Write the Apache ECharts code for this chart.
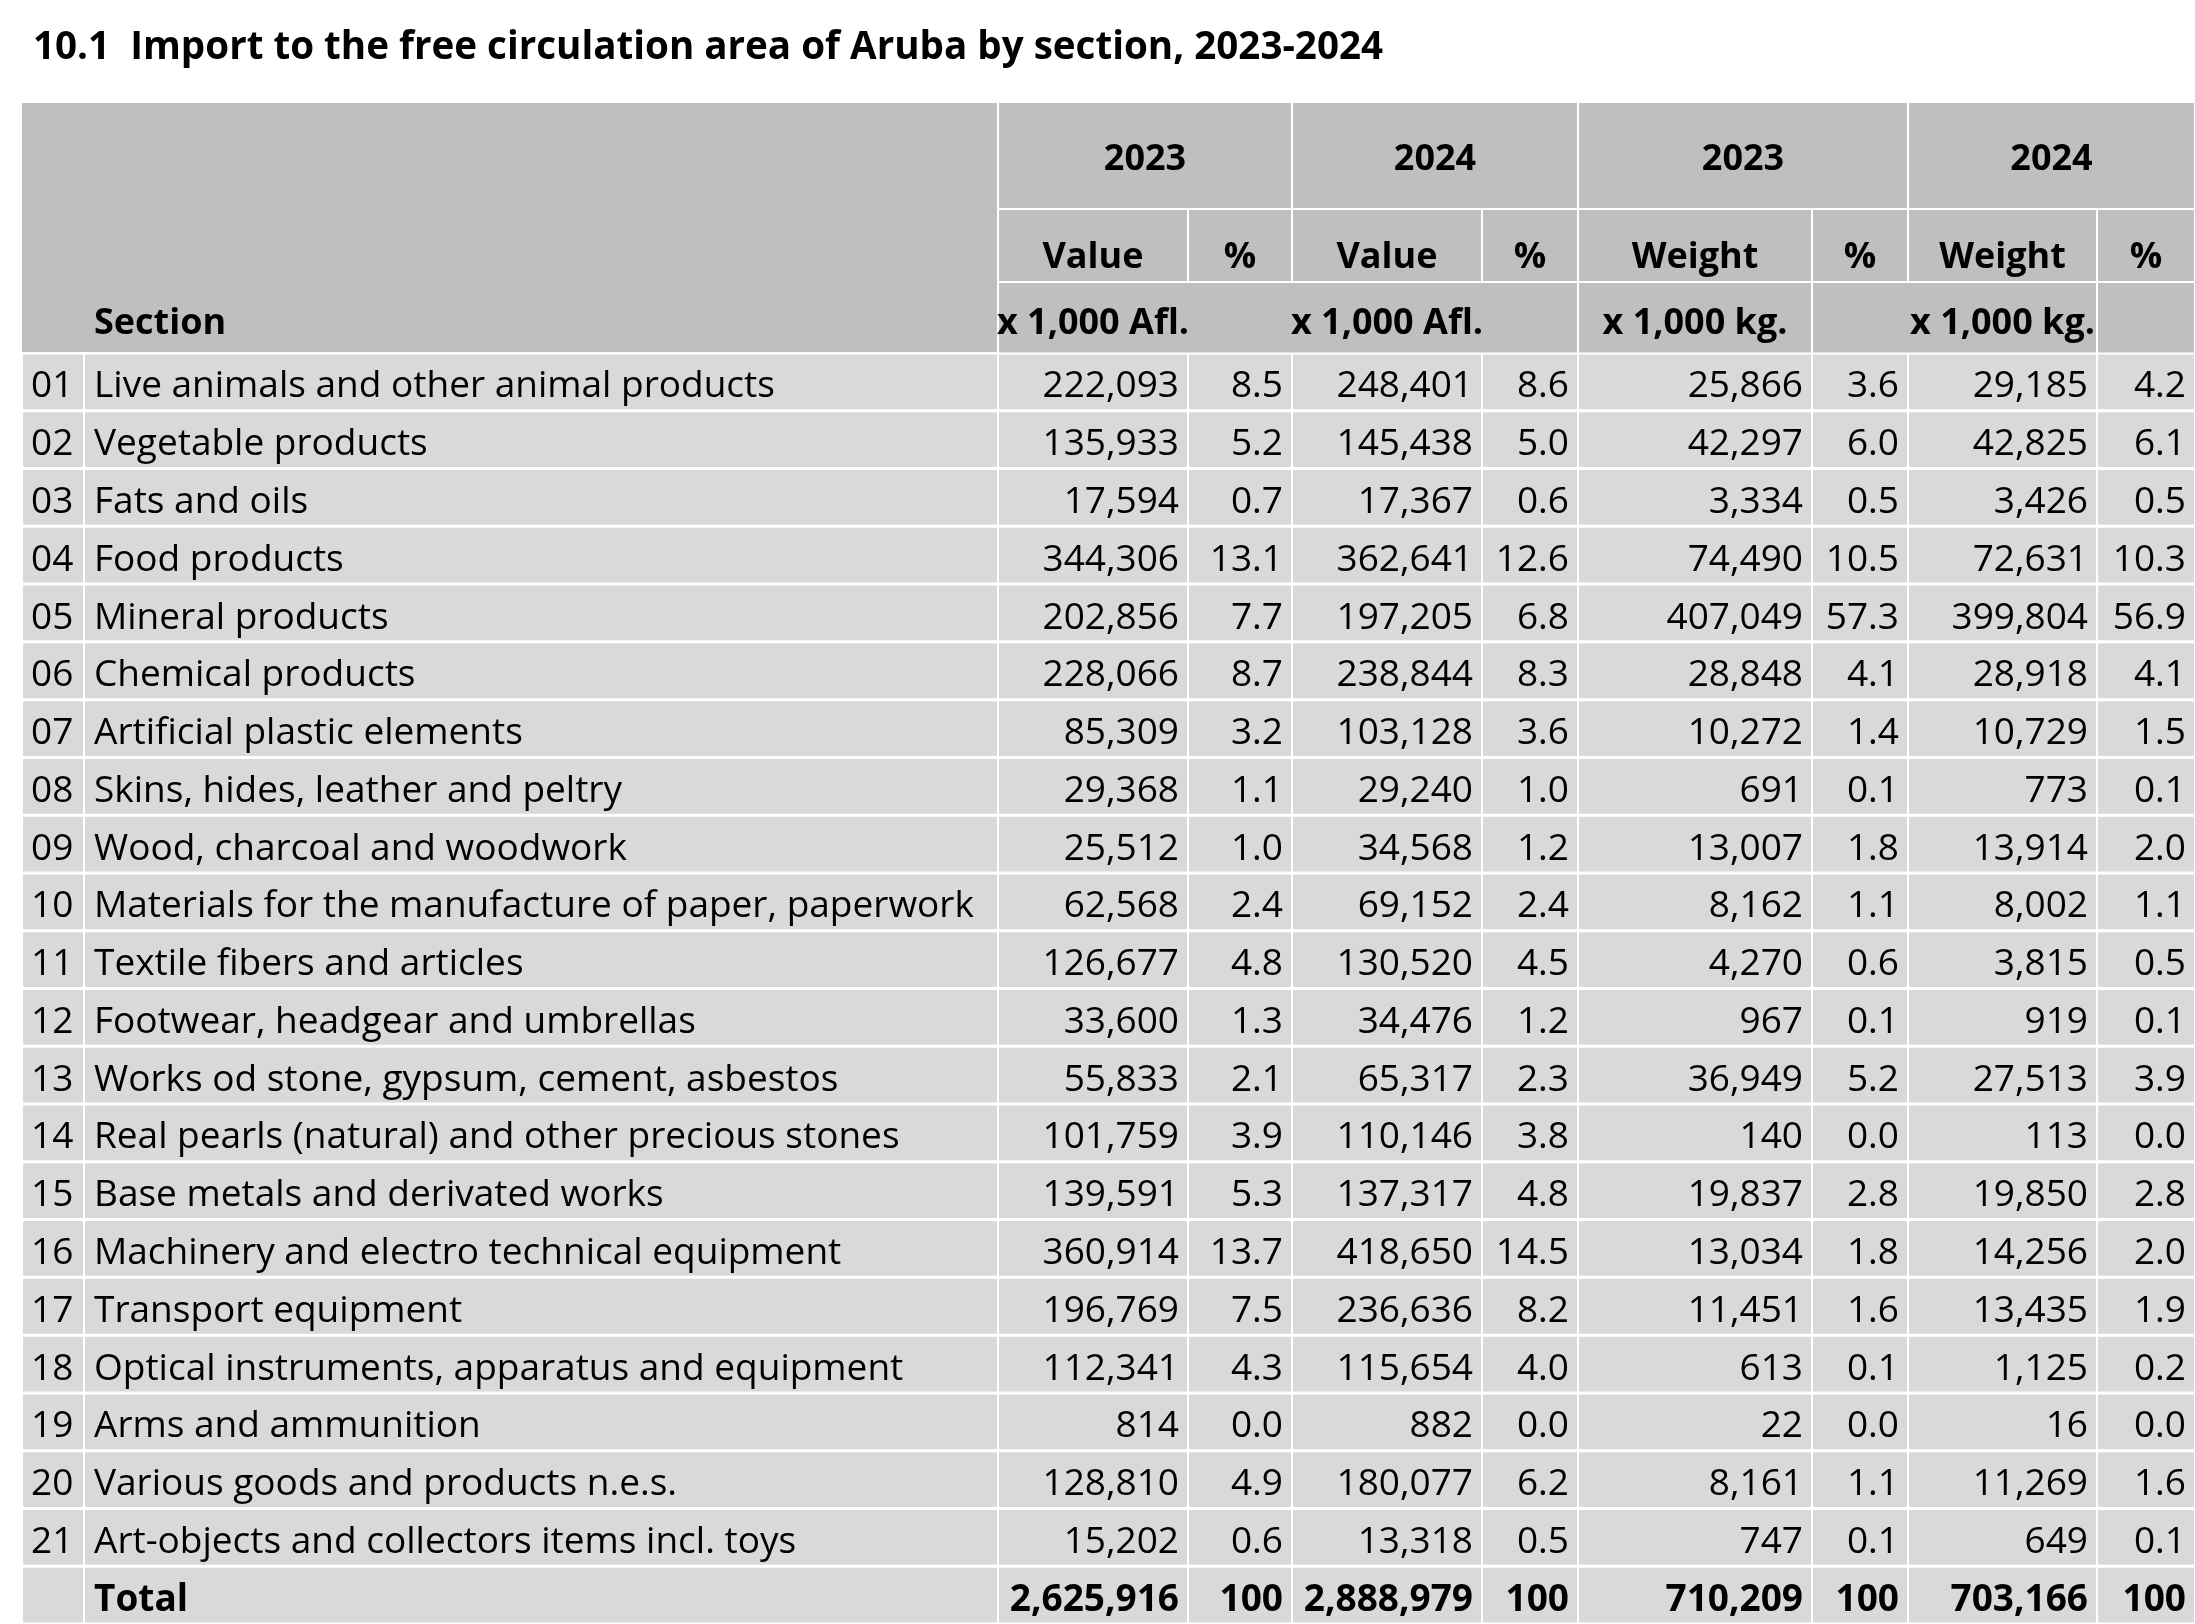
<!DOCTYPE html>
<html>
<head>
    <meta charset="utf-8">
    <title>Import to the free circulation area of Aruba by section, 2023-2024</title>
    <script src="https://cdn.jsdelivr.net/npm/echarts@6/dist/echarts.min.js"></script>
    <style>
        body { margin: 0; background: #fff; }
        #main { width: 2195px; height: 1624px; }
    </style>
</head>
<body>
<div id="main"></div>
<script type="text/javascript">
    // table data
    var codes = ['01', '02', '03', '04', '05', '06', '07', '08', '09', '10', '11',
        '12', '13', '14', '15', '16', '17', '18', '19', '20', '21'];
    var sections = [
        'Live animals and other animal products',
        'Vegetable products',
        'Fats and oils',
        'Food products',
        'Mineral products',
        'Chemical products',
        'Artificial plastic elements',
        'Skins, hides, leather and peltry',
        'Wood, charcoal and woodwork',
        'Materials for the manufacture of paper, paperwork',
        'Textile fibers and articles',
        'Footwear, headgear and umbrellas',
        'Works od stone, gypsum, cement, asbestos',
        'Real pearls (natural) and other precious stones',
        'Base metals and derivated works',
        'Machinery and electro technical equipment',
        'Transport equipment',
        'Optical instruments, apparatus and equipment',
        'Arms and ammunition',
        'Various goods and products n.e.s.',
        'Art-objects and collectors items incl. toys'
    ];
    var value2023 = [222093, 135933, 17594, 344306, 202856, 228066, 85309, 29368, 25512, 62568, 126677,
        33600, 55833, 101759, 139591, 360914, 196769, 112341, 814, 128810, 15202];
    var valuePct2023 = [8.5, 5.2, 0.7, 13.1, 7.7, 8.7, 3.2, 1.1, 1.0, 2.4, 4.8,
        1.3, 2.1, 3.9, 5.3, 13.7, 7.5, 4.3, 0.0, 4.9, 0.6];
    var value2024 = [248401, 145438, 17367, 362641, 197205, 238844, 103128, 29240, 34568, 69152, 130520,
        34476, 65317, 110146, 137317, 418650, 236636, 115654, 882, 180077, 13318];
    var valuePct2024 = [8.6, 5.0, 0.6, 12.6, 6.8, 8.3, 3.6, 1.0, 1.2, 2.4, 4.5,
        1.2, 2.3, 3.8, 4.8, 14.5, 8.2, 4.0, 0.0, 6.2, 0.5];
    var weight2023 = [25866, 42297, 3334, 74490, 407049, 28848, 10272, 691, 13007, 8162, 4270,
        967, 36949, 140, 19837, 13034, 11451, 613, 22, 8161, 747];
    var weightPct2023 = [3.6, 6.0, 0.5, 10.5, 57.3, 4.1, 1.4, 0.1, 1.8, 1.1, 0.6,
        0.1, 5.2, 0.0, 2.8, 1.8, 1.6, 0.1, 0.0, 1.1, 0.1];
    var weight2024 = [29185, 42825, 3426, 72631, 399804, 28918, 10729, 773, 13914, 8002, 3815,
        919, 27513, 113, 19850, 14256, 13435, 1125, 16, 11269, 649];
    var weightPct2024 = [4.2, 6.1, 0.5, 10.3, 56.9, 4.1, 1.5, 0.1, 2.0, 1.1, 0.5,
        0.1, 3.9, 0.0, 2.8, 2.0, 1.9, 0.2, 0.0, 1.6, 0.1];
    var totalRow = [2625916, 100, 2888979, 100, 710209, 100, 703166, 100];

    // header labels
    var yearLabels = ['2023', '2024', '2023', '2024'];
    var measureLabels = ['Value', '%', 'Value', '%', 'Weight', '%', 'Weight', '%'];
    var unitLabels = ['x 1,000 Afl.', '', 'x 1,000 Afl.', '', 'x 1,000 kg.', '', 'x 1,000 kg.', ''];

    // layout (pixels)
    var colEdges = [22, 84, 998, 1188, 1292, 1482, 1578, 1812, 1908, 2097, 2195];
    var headTop = 102, headRow1 = 209, headRow2 = 282, headBottom = 353;
    var FONT = '"Open Sans", "Liberation Sans", sans-serif';
    var FS = 37, HEAD_FS = 36;
    var bodyFill = '#D9D9D9', headFill = '#BFBFBF';

    function fmt(n) {
        return n.toLocaleString('en-US');
    }

    // one item per table cell: [col, row]
    var rowLabels = codes.concat(['Total']);
    var cells = [];
    var cellData = [];
    function addCell(col, row, text, bold) {
        cells.push({ col: col, text: text, bold: bold });
        cellData.push([col, row]);
    }
    for (var i = 0; i < codes.length; i++) {
        addCell(0, i, codes[i], false);
        addCell(1, i, sections[i], false);
        addCell(2, i, fmt(value2023[i]), false);
        addCell(3, i, valuePct2023[i].toFixed(1), false);
        addCell(4, i, fmt(value2024[i]), false);
        addCell(5, i, valuePct2024[i].toFixed(1), false);
        addCell(6, i, fmt(weight2023[i]), false);
        addCell(7, i, weightPct2023[i].toFixed(1), false);
        addCell(8, i, fmt(weight2024[i]), false);
        addCell(9, i, weightPct2024[i].toFixed(1), false);
    }
    var t = codes.length;
    addCell(0, t, '', true);
    addCell(1, t, 'Total', true);
    for (var j = 0; j < totalRow.length; j++) {
        addCell(2 + j, t, fmt(totalRow[j]), true);
    }

    // header, drawn as graphic cells
    function headRect(x0, y0, x1, y1) {
        return {
            type: 'rect',
            shape: { x: x0 + 1, y: y0 + 1, width: x1 - x0 - 2, height: y1 - y0 - 2 },
            style: { fill: headFill }
        };
    }
    function headText(x, y, text, align) {
        return {
            type: 'text',
            x: x, y: y,
            style: {
                text: text, fill: '#000',
                fontFamily: FONT, fontSize: HEAD_FS, fontWeight: 'bold',
                align: align, verticalAlign: 'middle',
                textAlign: align, textVerticalAlign: 'middle'
            }
        };
    }
    var header = [];
    header.push(headRect(colEdges[0] - 1, headTop, colEdges[2], headBottom));
    header.push(headText(colEdges[1] + 10, 324, 'Section', 'left'));
    var yearEdges = [998, 1292, 1578, 1908, 2195];
    for (var k = 0; k < yearLabels.length; k++) {
        header.push(headRect(yearEdges[k], headTop, yearEdges[k + 1], headRow1));
        header.push(headText((yearEdges[k] + yearEdges[k + 1]) / 2, 160, yearLabels[k], 'center'));
    }
    for (var m = 0; m < measureLabels.length; m++) {
        var a = colEdges[m + 2], b = colEdges[m + 3];
        header.push(headRect(a, headRow1, b, headRow2));
        header.push(headText((a + b) / 2, 258, measureLabels[m], 'center'));
    }
    var unitEdges = [998, 1578, 1812, 2097, 2195];
    for (var u = 0; u < unitEdges.length - 1; u++) {
        header.push(headRect(unitEdges[u], headRow2, unitEdges[u + 1], headBottom + 0.5));
    }
    for (var n = 0; n < unitLabels.length; n++) {
        if (!unitLabels[n]) continue;
        var c0 = colEdges[n + 2], c1 = colEdges[n + 3];
        header.push(headText((c0 + c1) / 2, 324, unitLabels[n], 'center'));
    }

    var myChart = echarts.init(document.getElementById('main'));
    myChart.setOption({
        backgroundColor: '#fff',
        animation: false,
        title: {
            text: '10.1  Import to the free circulation area of Aruba by section, 2023-2024',
            left: 28,
            top: 24,
            textStyle: {
                fontFamily: FONT,
                fontSize: 38.6,
                fontWeight: 'bold',
                color: '#000'
            }
        },
        grid: { left: 0, right: 0, top: headBottom, bottom: 0 },
        xAxis: { type: 'value', min: 0, max: 2195, show: false },
        yAxis: { type: 'category', data: rowLabels, inverse: true, show: false },
        graphic: header,
        series: [{
            type: 'custom',
            data: cellData,
            renderItem: function (params, api) {
                var cell = cells[params.dataIndex];
                var row = api.value(1);
                var p0 = api.coord([colEdges[cell.col], row]);
                var p1 = api.coord([colEdges[cell.col + 1], row]);
                var h = api.size([0, 1])[1];
                var tx, align;
                if (cell.col === 0) { tx = p0[0] + 9; align = 'left'; }
                else if (cell.col === 1) { tx = p0[0] + 10; align = 'left'; }
                else { tx = p1[0] - 9; align = 'right'; }
                return {
                    type: 'group',
                    children: [{
                        type: 'rect',
                        shape: { x: p0[0] + 1, y: p0[1] - h / 2 + 1.5, width: p1[0] - p0[0] - 2, height: h - 3 },
                        style: { fill: bodyFill }
                    }, {
                        type: 'text',
                        x: tx, y: p0[1] + 5,
                        style: {
                            text: cell.text, fill: '#000',
                            fontFamily: FONT, fontSize: FS,
                            fontWeight: cell.bold ? 'bold' : 'normal',
                            align: align, verticalAlign: 'middle',
                            textAlign: align, textVerticalAlign: 'middle'
                        }
                    }]
                };
            }
        }]
    });
</script>
</body>
</html>
